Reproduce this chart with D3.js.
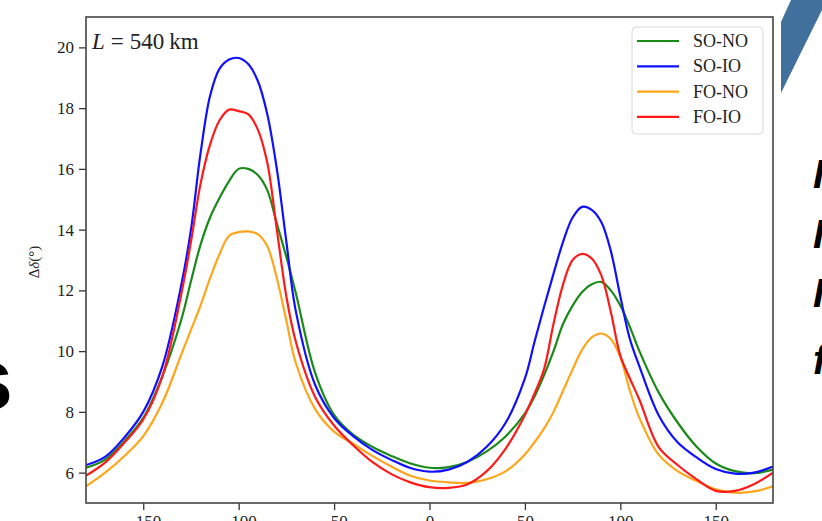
<!DOCTYPE html>
<html>
<head>
<meta charset="utf-8">
<script src="https://cdn.jsdelivr.net/npm/d3@7"></script>
<style>
  html, body { margin: 0; padding: 0; background: #fff; }
  svg { display: block; }
</style>
</head>
<body>
<svg id="chart" width="822" height="521"></svg>
<script>
// ---- data ----
const angles = [-180,-170,-160,-150,-140,-130,-125,-120,-115,-110,-105,-100,-95,-90,-85,-80,-75,-70,-60,-50,-40,-30,-20,-10,0,10,20,30,40,50,55,60,65,70,75,80,85,90,95,100,105,110,120,130,140,150,160,170,180];

const soNO = [6.16,6.43,7.03,7.8,9.17,11.05,12.3,13.5,14.4,15.05,15.6,16.0,16.0,15.8,15.3,14.2,13.1,11.9,9.3,7.9,7.25,6.85,6.55,6.3,6.16,6.18,6.36,6.7,7.2,7.95,8.5,9.2,10.0,10.9,11.5,11.95,12.2,12.28,12.0,11.5,10.8,10.0,8.65,7.65,6.85,6.3,6.05,5.98,6.1];
const soIO = [6.25,6.52,7.15,8.0,9.5,12.2,14.0,16.5,18.4,19.3,19.6,19.65,19.45,18.9,17.8,16.0,13.6,11.3,8.9,7.8,7.2,6.75,6.42,6.15,6.03,6.1,6.36,6.85,7.65,9.1,10.3,11.45,12.55,13.6,14.4,14.75,14.65,14.25,13.3,11.8,10.4,9.5,7.9,7.0,6.5,6.12,5.97,6.0,6.2];
const foNO = [5.55,6.0,6.54,7.2,8.3,9.9,10.7,11.5,12.4,13.2,13.8,13.92,13.94,13.85,13.45,12.4,11.0,9.6,8.1,7.35,6.95,6.55,6.2,5.9,5.74,5.68,5.66,5.78,6.05,6.6,7.0,7.45,8.0,8.7,9.4,10.05,10.45,10.58,10.4,9.8,8.7,7.8,6.6,6.05,5.72,5.45,5.34,5.38,5.55];
const foIO = [5.9,6.33,6.98,7.75,9.17,11.9,13.6,15.5,16.8,17.6,17.95,17.9,17.8,17.3,16.2,14.0,11.8,10.3,8.5,7.55,6.9,6.35,5.95,5.68,5.52,5.5,5.62,6.05,6.8,7.9,8.6,9.4,10.9,12.2,13.0,13.2,13.05,12.5,11.3,9.85,9.1,8.4,6.85,6.25,5.78,5.4,5.4,5.62,6.0];

const seriesNames = ["SO-NO","SO-IO","FO-NO","FO-IO"];
const seriesColors = ["#1a8a1a","#1010ff","#ffa51a","#ff1a1a"];
const seriesValues = [soNO, soIO, foNO, foIO];

const xTicks = [-150,-100,-50,0,50,100,150];
const yTicks = [6,8,10,12,14,16,18,20];

// ---- layout ----
const svg = d3.select("#chart");
const L = 86, R = 773, T = 17, B = 503;
const x = d3.scaleLinear().domain([-180,180]).range([L,R]);
const y = d3.scaleLinear().domain([5,21]).range([B,T]);
const serif = "'Liberation Serif','DejaVu Serif',serif";

// background slide decorations
svg.append("polygon")
  .attr("points","781,22 791,0 822,0 822,10 781,93")
  .attr("fill","#41709c");
svg.append("text").attr("x",13).attr("y",409).attr("text-anchor","end")
  .attr("font-family","'Liberation Sans',Arial,sans-serif").attr("font-weight","bold")
  .attr("font-size",88).attr("fill","#000").text("s");
[["I",188],["I",248],["I",307],["f",374]].forEach(([t,by])=>{
  svg.append("text").attr("x",813).attr("y",by)
    .attr("font-family","'Liberation Sans',Arial,sans-serif").attr("font-weight","bold")
    .attr("font-style","italic").attr("font-size",40).attr("fill","#000").text(t);
});

// lines
const line = d3.line()
  .x((d,i)=>x(angles[i]))
  .y(d=>y(d))
  .curve(d3.curveCatmullRom.alpha(0.5));

svg.append("clipPath").attr("id","plotclip")
  .append("rect").attr("x",L).attr("y",T).attr("width",R-L).attr("height",B-T);

const g = svg.append("g").attr("clip-path","url(#plotclip)");
seriesValues.forEach((vals,k)=>{
  g.append("path").datum(vals)
    .attr("d",line)
    .attr("fill","none")
    .attr("stroke",seriesColors[k])
    .attr("stroke-width",2.2)
    .attr("stroke-linejoin","round");
});

// axes
const yAxis = d3.axisLeft(y).tickValues(yTicks).tickSize(7).tickPadding(5)
  .tickFormat(d=>d);
const gy = svg.append("g").attr("transform",`translate(${L},0)`).call(yAxis);
gy.select(".domain").remove();
gy.selectAll(".tick line").attr("stroke","#333").attr("stroke-width",1.3);
gy.selectAll(".tick text").attr("font-family",serif).attr("font-size",17).attr("fill","#222");

const xAxis = d3.axisBottom(x).tickValues(xTicks).tickSize(7).tickPadding(5)
  .tickFormat(d=> d<0 ? "\u2212"+Math.abs(d) : d);
const gx = svg.append("g").attr("transform",`translate(0,${B})`).call(xAxis);
gx.select(".domain").remove();
gx.selectAll(".tick line").attr("stroke","#333").attr("stroke-width",1.3);
gx.selectAll(".tick text").attr("font-family",serif).attr("font-size",17).attr("fill","#222");

// frame
svg.append("rect").attr("x",L).attr("y",T).attr("width",R-L).attr("height",B-T)
  .attr("fill","none").attr("stroke","#444").attr("stroke-width",1.6);

// y label
const yl = svg.append("text").attr("transform","translate(39,262) rotate(-90)")
  .attr("text-anchor","middle").attr("font-family",serif).attr("font-size",15).attr("fill","#222");
yl.append("tspan").text("\u0394");
yl.append("tspan").attr("font-style","italic").text("\u03b4");
yl.append("tspan").text("(\u00b0)");

// annotation
const ann = svg.append("text").attr("x",92).attr("y",49)
  .attr("font-family",serif).attr("font-size",23).attr("fill","#222");
ann.append("tspan").attr("font-style","italic").text("L");
ann.append("tspan").attr("dx",6).text("=");
ann.append("tspan").attr("dx",6).text("540");
ann.append("tspan").attr("dx",5).text("km");

// legend
const lg = svg.append("g");
lg.append("rect").attr("x",632).attr("y",27).attr("width",131).attr("height",107)
  .attr("rx",4).attr("fill","#fff").attr("fill-opacity",0.85)
  .attr("stroke","#d8d8d8").attr("stroke-width",1);
seriesNames.forEach((n,k)=>{
  const ly = 41 + k*25.3;
  lg.append("line").attr("x1",637).attr("x2",679).attr("y1",ly).attr("y2",ly)
    .attr("stroke",seriesColors[k]).attr("stroke-width",2.2);
  lg.append("text").attr("x",693).attr("y",ly+6)
    .attr("font-family",serif).attr("font-size",18).attr("fill","#222").text(n);
});
</script>
</body>
</html>
